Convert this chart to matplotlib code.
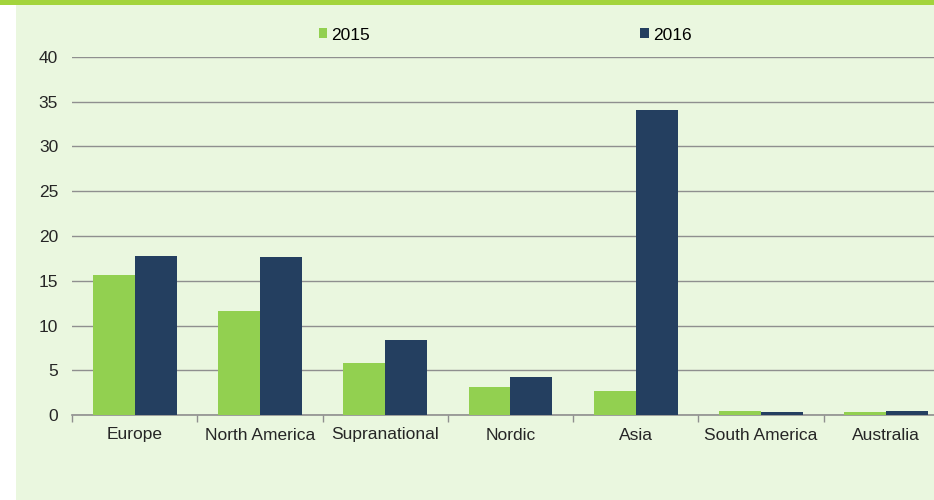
import matplotlib
matplotlib.use("Agg")
import matplotlib.pyplot as plt
from matplotlib.patches import Rectangle
import numpy as np

plt.rcParams.update({"font.family": ["Liberation Sans", "DejaVu Sans"], "font.size": 12.5})

regions = ["Europe", "North America", "Supranational", "Nordic", "Asia", "South America", "Australia"]
v2015 = [15.6, 11.6, 5.8, 3.1, 2.7, 0.45, 0.35]
v2016 = [17.8, 17.7, 8.4, 4.2, 34.1, 0.35, 0.5]
yticks = [0, 5, 10, 15, 20, 25, 30, 35, 40]

GREEN = "#92d050"; NAVY = "#243f60"; BG = "#eaf7df"; GRID = "#8f8f8f"; TXT = "#262626"

fig = plt.figure(figsize=(9.34, 5.0), dpi=100)
fig.patch.set_facecolor("white")
# light green panel + top accent bar
fig.add_artist(Rectangle((16/934, 0), 1, 1, transform=fig.transFigure, fc=BG, ec="none", zorder=-2))
fig.add_artist(Rectangle((0, 1-5/500), 1, 5/500, transform=fig.transFigure, fc="#a3d43c", ec="none", zorder=-1))

ax = fig.add_axes([72/934, 85/500, 877/934, 358/500])
ax.set_facecolor("none")
x = np.arange(len(regions)); w = 0.335
ax.bar(x - w/2, v2015, w, color=GREEN, label="2015", zorder=3)
ax.bar(x + w/2, v2016, w, color=NAVY, label="2016", zorder=3)

ax.set_xlim(-0.5, len(regions) - 0.5); ax.set_ylim(0, 40)
ax.set_yticks(yticks)
ax.yaxis.grid(True, color=GRID, lw=1); ax.set_axisbelow(True)
for s in ["top", "right", "left"]: ax.spines[s].set_visible(False)
ax.spines["bottom"].set_color(GRID); ax.spines["bottom"].set_linewidth(1.2)
ax.tick_params(axis="y", length=0, pad=10, colors=TXT, labelsize=12.5)
ax.set_xticks(x); ax.set_xticklabels(regions, color=TXT, fontsize=12.5)
ax.tick_params(axis="x", which="major", length=0, pad=9)
ax.set_xticks(np.arange(-0.5, len(regions)), minor=True)
ax.tick_params(axis="x", which="minor", length=5, color=GRID, width=1)

fig.legend(loc="center", bbox_to_anchor=(505/934, 1-35/500), ncol=2, frameon=False,
           handlelength=0.5, handleheight=0.5, handletextpad=0.2, columnspacing=15.6, fontsize=12.5)

fig.savefig("out.png", dpi=100, facecolor=fig.get_facecolor())
